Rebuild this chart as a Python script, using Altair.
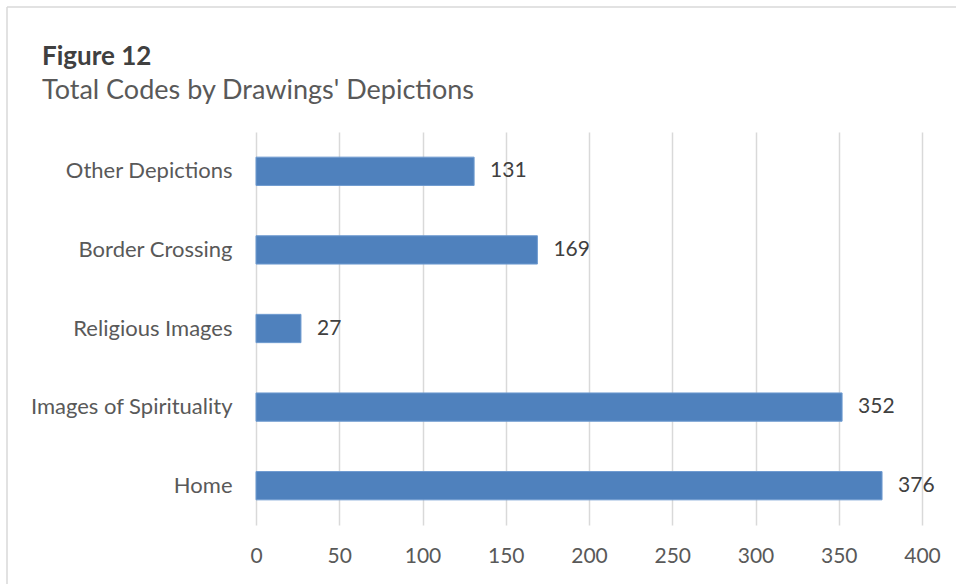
import altair as alt
import pandas as pd

categories = ["Other Depictions", "Border Crossing", "Religious Images", "Images of Spirituality", "Home"]
values = [131, 169, 27, 352, 376]
title_text = "Figure 12"
subtitle_text = "Total Codes by Drawings' Depictions"

df = pd.DataFrame({"cat": categories, "val": values})

FONT = "Lato"

base = alt.Chart(df).encode(
    y=alt.Y("cat:N", sort=categories, title=None,
            scale=alt.Scale(paddingInner=0.64, paddingOuter=0.32),
            axis=alt.Axis(domain=False, ticks=False, labelPadding=24, labelFontSize=22,
                          labelColor="#595959", labelFont=FONT, grid=False, labelLimit=400)),
)

bars = base.mark_bar(color="#4F81BD", stroke="#6F9BD0", strokeWidth=1).encode(
    x=alt.X("val:Q", title=None,
            scale=alt.Scale(domain=[0, 400], nice=False),
            axis=alt.Axis(values=[0, 50, 100, 150, 200, 250, 300, 350, 400], domain=False, ticks=False,
                          labelPadding=20, labelFontSize=21, labelColor="#595959", labelFont=FONT,
                          labelFlush=False,
                          grid=True, gridColor="#D9D9D9", gridWidth=1.5)),
)

labels = base.mark_text(align="left", baseline="middle", dx=16, fontSize=21, font=FONT, color="#404040").encode(
    x="val:Q", text="val:Q"
)

tdf = pd.DataFrame({"t": [title_text]})
sdf = pd.DataFrame({"t": [subtitle_text]})
title_mark = alt.Chart(tdf).mark_text(align="left", baseline="alphabetic", fontSize=26, fontWeight="bold",
                                      font=FONT, color="#404040").encode(
    x=alt.value(-214), y=alt.value(-67), text="t:N")
subtitle_mark = alt.Chart(sdf).mark_text(align="left", baseline="alphabetic", fontSize=27,
                                         font=FONT, color="#595959").encode(
    x=alt.value(-214), y=alt.value(-33), text="t:N")

border_top = alt.Chart(tdf).mark_rule(color="#D9D9D9", strokeWidth=1.5).encode(
    x=alt.value(-249), x2=alt.value(720), y=alt.value(-125)
)
border_left = alt.Chart(tdf).mark_rule(color="#D9D9D9", strokeWidth=1.5).encode(
    x=alt.value(-249), y=alt.value(-125), y2=alt.value(470)
)

chart = alt.layer(border_top, border_left, title_mark, subtitle_mark, bars, labels).properties(
    width=666, height=393,
    background="white",
    autosize=alt.AutoSizeParams(type="none"),
    padding={"left": 256, "top": 132, "right": 34, "bottom": 59},
).configure_view(strokeWidth=0, stroke="transparent")

chart.save("out.html", embed_options={"renderer": "svg", "actions": False})
